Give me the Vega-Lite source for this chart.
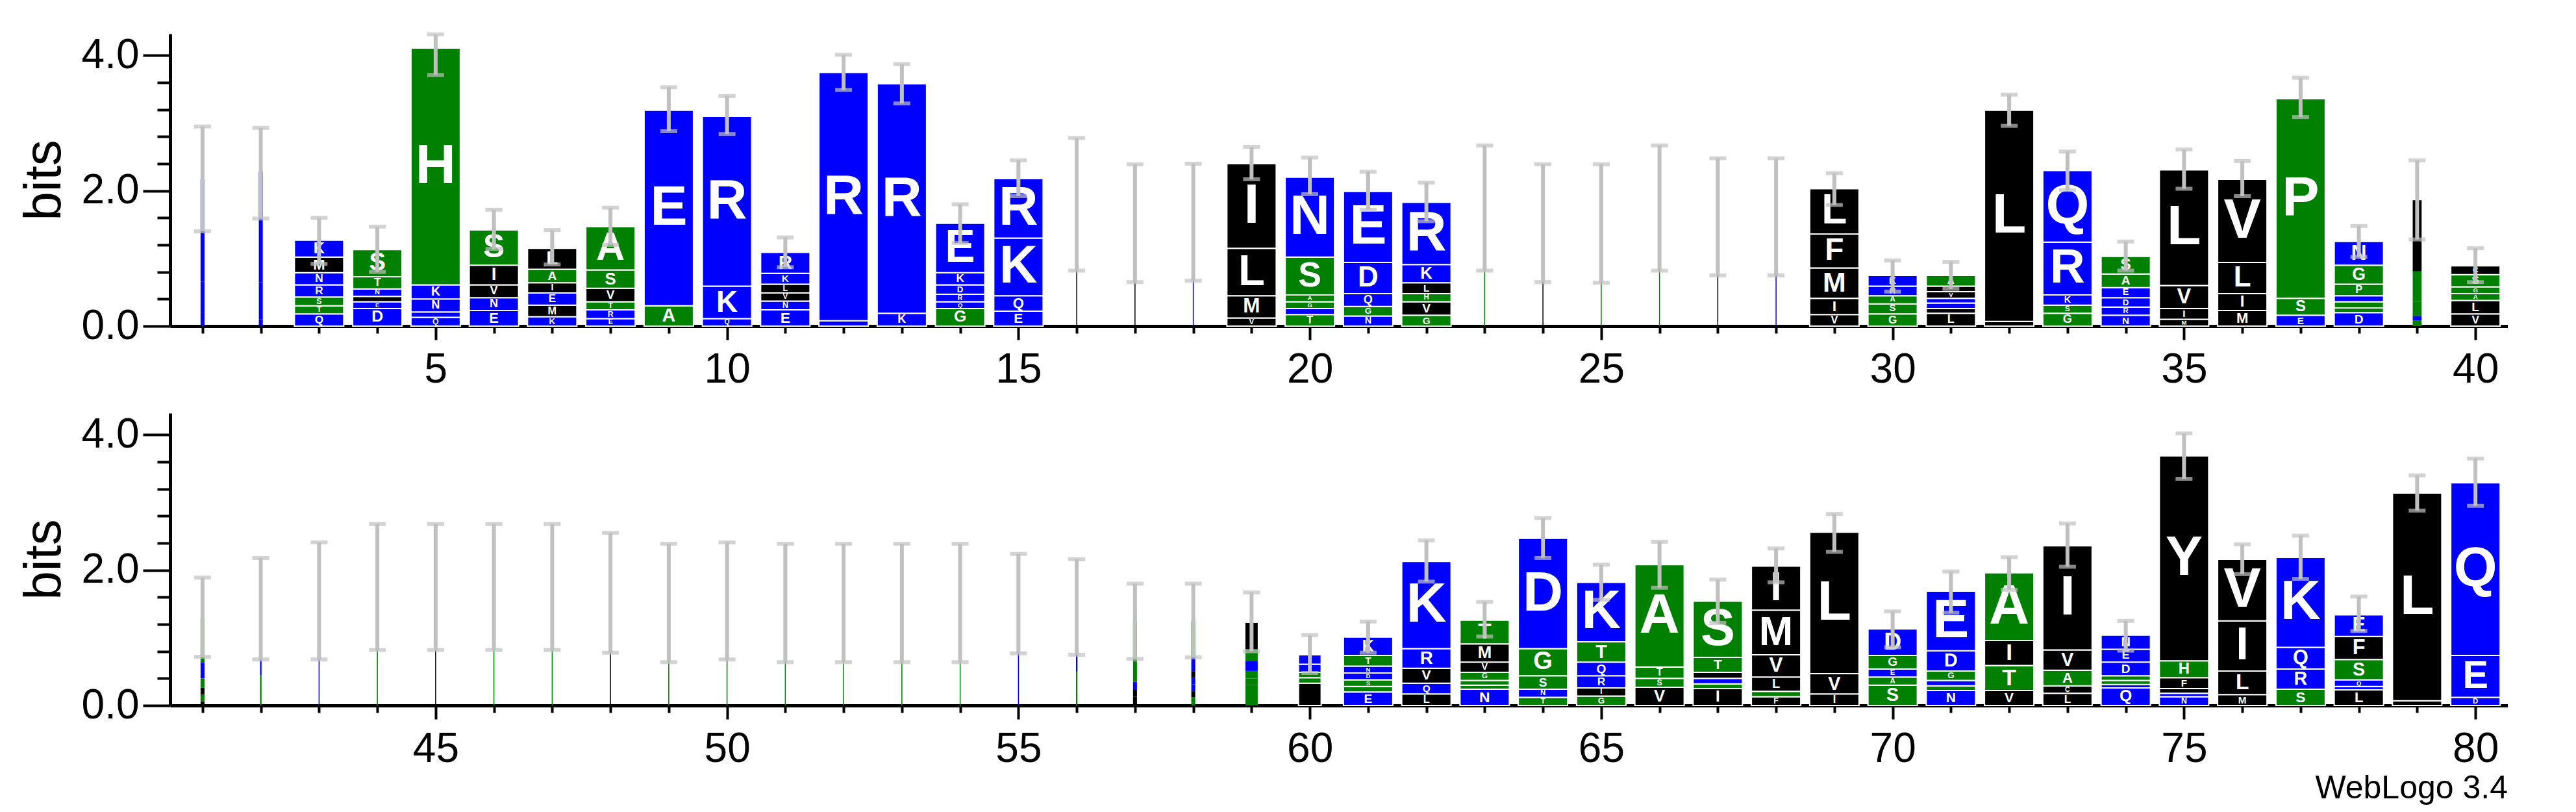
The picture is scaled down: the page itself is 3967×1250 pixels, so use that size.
{
"$schema": "https://vega.github.io/schema/vega-lite/v6.json",
"background": "white",
"padding": {"left": 28, "top": 50, "right": 0, "bottom": 10},
"config": {
  "view": {"stroke": null},
  "font": "Liberation Sans",
  "axis": {"domainColor": "black", "domainWidth": 5, "tickColor": "black", "tickWidth": 4, "labelColor": "black", "labelFont": "Liberation Sans", "labelFontSize": 64, "grid": false, "titleFont": "Liberation Sans", "titleFontSize": 80, "titleFontWeight": "normal", "titleColor": "black", "labelOverlap": false, "labelFlush": false},
  "concat": {"spacing": 35}
},
"datasets": {
"logo": [
{"p":1,"a":"D","b":0.21,"w":0.08},{"p":1,"a":"R","b":0.45,"w":0.08},{"p":1,"a":"K","b":1.51,"w":0.08},
{"p":2,"a":"E","b":0.1,"w":0.08},{"p":2,"a":"K","b":0.55,"w":0.08},{"p":2,"a":"R","b":1.63,"w":0.08},
{"p":3,"a":"Q","b":0.18,"w":1},{"p":3,"a":"T","b":0.12,"w":1},{"p":3,"a":"S","b":0.13,"w":1},{"p":3,"a":"R","b":0.18,"w":1},{"p":3,"a":"N","b":0.18,"w":1},{"p":3,"a":"M","b":0.23,"w":1},{"p":3,"a":"K","b":0.25,"w":1},
{"p":4,"a":"D","b":0.26,"w":1},{"p":4,"a":"E","b":0.1,"w":1},{"p":4,"a":"V","b":0.08,"w":1},{"p":4,"a":"N","b":0.11,"w":1},{"p":4,"a":"T","b":0.18,"w":1},{"p":4,"a":"S","b":0.4,"w":1},
{"p":5,"a":"Q","b":0.13,"w":1},{"p":5,"a":"R","b":0.08,"w":1},{"p":5,"a":"N","b":0.19,"w":1},{"p":5,"a":"K","b":0.21,"w":1},{"p":5,"a":"H","b":3.5,"w":1},
{"p":6,"a":"E","b":0.23,"w":1},{"p":6,"a":"N","b":0.19,"w":1},{"p":6,"a":"V","b":0.19,"w":1},{"p":6,"a":"I","b":0.29,"w":1},{"p":6,"a":"S","b":0.52,"w":1},
{"p":7,"a":"K","b":0.14,"w":1},{"p":7,"a":"M","b":0.17,"w":1},{"p":7,"a":"E","b":0.18,"w":1},{"p":7,"a":"I","b":0.15,"w":1},{"p":7,"a":"A","b":0.2,"w":1},{"p":7,"a":"L","b":0.31,"w":1},
{"p":8,"a":"E","b":0.11,"w":1},{"p":8,"a":"R","b":0.13,"w":1},{"p":8,"a":"T","b":0.12,"w":1},{"p":8,"a":"V","b":0.2,"w":1},{"p":8,"a":"S","b":0.27,"w":1},{"p":8,"a":"A","b":0.64,"w":1},
{"p":9,"a":"A","b":0.3,"w":1},{"p":9,"a":"E","b":2.89,"w":1},
{"p":10,"a":"Q","b":0.11,"w":1},{"p":10,"a":"K","b":0.48,"w":1},{"p":10,"a":"R","b":2.51,"w":1},
{"p":11,"a":"E","b":0.24,"w":1},{"p":11,"a":"N","b":0.13,"w":1},{"p":11,"a":"V","b":0.12,"w":1},{"p":11,"a":"L","b":0.13,"w":1},{"p":11,"a":"K","b":0.16,"w":1},{"p":11,"a":"R","b":0.31,"w":1},
{"p":12,"a":"K","b":0.08,"w":1},{"p":12,"a":"R","b":3.67,"w":1},
{"p":13,"a":"K","b":0.19,"w":1},{"p":13,"a":"R","b":3.39,"w":1},
{"p":14,"a":"G","b":0.26,"w":1},{"p":14,"a":"Q","b":0.1,"w":1},{"p":14,"a":"R","b":0.11,"w":1},{"p":14,"a":"D","b":0.14,"w":1},{"p":14,"a":"K","b":0.18,"w":1},{"p":14,"a":"E","b":0.73,"w":1},
{"p":15,"a":"E","b":0.22,"w":1},{"p":15,"a":"Q","b":0.23,"w":1},{"p":15,"a":"K","b":0.85,"w":1},{"p":15,"a":"R","b":0.88,"w":1},
{"p":16,"a":"L","b":1.8,"w":0.02},
{"p":17,"a":"L","b":1.51,"w":0.02},
{"p":18,"a":"K","b":1.52,"w":0.02},
{"p":19,"a":"V","b":0.12,"w":1},{"p":19,"a":"M","b":0.33,"w":1},{"p":19,"a":"L","b":0.7,"w":1},{"p":19,"a":"I","b":1.25,"w":1},
{"p":20,"a":"T","b":0.17,"w":1},{"p":20,"a":"D","b":0.09,"w":1},{"p":20,"a":"G","b":0.1,"w":1},{"p":20,"a":"A","b":0.1,"w":1},{"p":20,"a":"S","b":0.56,"w":1},{"p":20,"a":"N","b":1.18,"w":1},
{"p":21,"a":"N","b":0.15,"w":1},{"p":21,"a":"G","b":0.14,"w":1},{"p":21,"a":"Q","b":0.19,"w":1},{"p":21,"a":"D","b":0.46,"w":1},{"p":21,"a":"E","b":1.05,"w":1},
{"p":22,"a":"G","b":0.16,"w":1},{"p":22,"a":"V","b":0.2,"w":1},{"p":22,"a":"H","b":0.12,"w":1},{"p":22,"a":"L","b":0.16,"w":1},{"p":22,"a":"K","b":0.27,"w":1},{"p":22,"a":"R","b":0.92,"w":1},
{"p":23,"a":"G","b":1.74,"w":0.02},
{"p":24,"a":"L","b":1.51,"w":0.02},
{"p":25,"a":"G","b":1.51,"w":0.02},
{"p":26,"a":"G","b":1.74,"w":0.02},
{"p":27,"a":"L","b":1.61,"w":0.02},
{"p":28,"a":"K","b":1.6,"w":0.02},
{"p":29,"a":"V","b":0.17,"w":1},{"p":29,"a":"I","b":0.24,"w":1},{"p":29,"a":"M","b":0.45,"w":1},{"p":29,"a":"F","b":0.5,"w":1},{"p":29,"a":"L","b":0.67,"w":1},
{"p":30,"a":"G","b":0.18,"w":1},{"p":30,"a":"S","b":0.15,"w":1},{"p":30,"a":"A","b":0.12,"w":1},{"p":30,"a":"R","b":0.14,"w":1},{"p":30,"a":"K","b":0.16,"w":1},
{"p":31,"a":"L","b":0.19,"w":1},{"p":31,"a":"I","b":0.07,"w":1},{"p":31,"a":"E","b":0.08,"w":1},{"p":31,"a":"K","b":0.07,"w":1},{"p":31,"a":"V","b":0.1,"w":1},{"p":31,"a":"M","b":0.08,"w":1},{"p":31,"a":"A","b":0.16,"w":1},
{"p":32,"a":"V","b":0.07,"w":1},{"p":32,"a":"L","b":3.12,"w":1},
{"p":33,"a":"G","b":0.19,"w":1},{"p":33,"a":"S","b":0.12,"w":1},{"p":33,"a":"K","b":0.15,"w":1},{"p":33,"a":"R","b":0.78,"w":1},{"p":33,"a":"Q","b":1.06,"w":1},
{"p":34,"a":"N","b":0.16,"w":1},{"p":34,"a":"R","b":0.12,"w":1},{"p":34,"a":"D","b":0.14,"w":1},{"p":34,"a":"E","b":0.15,"w":1},{"p":34,"a":"A","b":0.2,"w":1},{"p":34,"a":"S","b":0.26,"w":1},
{"p":35,"a":"M","b":0.1,"w":1},{"p":35,"a":"I","b":0.16,"w":1},{"p":35,"a":"V","b":0.34,"w":1},{"p":35,"a":"L","b":1.71,"w":1},
{"p":36,"a":"M","b":0.23,"w":1},{"p":36,"a":"I","b":0.25,"w":1},{"p":36,"a":"L","b":0.46,"w":1},{"p":36,"a":"V","b":1.23,"w":1},
{"p":37,"a":"E","b":0.16,"w":1},{"p":37,"a":"S","b":0.25,"w":1},{"p":37,"a":"P","b":2.95,"w":1},
{"p":38,"a":"D","b":0.2,"w":1},{"p":38,"a":"T","b":0.07,"w":1},{"p":38,"a":"S","b":0.09,"w":1},{"p":38,"a":"K","b":0.09,"w":1},{"p":38,"a":"P","b":0.17,"w":1},{"p":38,"a":"G","b":0.28,"w":1},{"p":38,"a":"N","b":0.35,"w":1},
{"p":39,"a":"S","b":0.08,"w":0.18},{"p":39,"a":"E","b":0.07,"w":0.18},{"p":39,"a":"A","b":0.22,"w":0.18},{"p":39,"a":"G","b":0.44,"w":0.18},{"p":39,"a":"I","b":1.05,"w":0.18},
{"p":40,"a":"V","b":0.18,"w":1},{"p":40,"a":"L","b":0.2,"w":1},{"p":40,"a":"A","b":0.1,"w":1},{"p":40,"a":"G","b":0.1,"w":1},{"p":40,"a":"S","b":0.18,"w":1},{"p":40,"a":"C","b":0.13,"w":1},
{"p":41,"a":"Y","b":0.06,"w":0.08},{"p":41,"a":"G","b":0.1,"w":0.08},{"p":41,"a":"C","b":0.1,"w":0.08},{"p":41,"a":"A","b":0.14,"w":0.08},{"p":41,"a":"R","b":0.24,"w":0.08},{"p":41,"a":"S","b":0.65,"w":0.08},
{"p":42,"a":"S","b":0.45,"w":0.03},{"p":42,"a":"K","b":0.96,"w":0.03},
{"p":43,"a":"K","b":1.55,"w":0.02},
{"p":44,"a":"G","b":1.74,"w":0.02},
{"p":45,"a":"L","b":1.74,"w":0.02},
{"p":46,"a":"G","b":1.74,"w":0.02},
{"p":47,"a":"G","b":1.74,"w":0.02},
{"p":48,"a":"L","b":1.66,"w":0.02},
{"p":49,"a":"G","b":1.49,"w":0.02},
{"p":50,"a":"G","b":1.54,"w":0.02},
{"p":51,"a":"G","b":1.49,"w":0.02},
{"p":52,"a":"G","b":1.49,"w":0.02},
{"p":53,"a":"G","b":1.49,"w":0.02},
{"p":54,"a":"G","b":1.49,"w":0.02},
{"p":55,"a":"K","b":1.49,"w":0.02},
{"p":56,"a":"S","b":0.2,"w":0.03},{"p":56,"a":"P","b":0.3,"w":0.03},{"p":56,"a":"K","b":0.93,"w":0.03},
{"p":57,"a":"Y","b":0.13,"w":0.08},{"p":57,"a":"L","b":0.1,"w":0.08},{"p":57,"a":"K","b":0.12,"w":0.08},{"p":57,"a":"S","b":0.3,"w":0.08},{"p":57,"a":"A","b":0.6,"w":0.08},
{"p":58,"a":"S","b":0.12,"w":0.08},{"p":58,"a":"M","b":0.09,"w":0.08},{"p":58,"a":"E","b":0.1,"w":0.08},{"p":58,"a":"D","b":0.1,"w":0.08},{"p":58,"a":"C","b":0.09,"w":0.08},{"p":58,"a":"N","b":0.21,"w":0.08},{"p":58,"a":"G","b":0.54,"w":0.08},
{"p":59,"a":"T","b":0.3,"w":0.25},{"p":59,"a":"S","b":0.1,"w":0.25},{"p":59,"a":"A","b":0.11,"w":0.25},{"p":59,"a":"K","b":0.15,"w":0.25},{"p":59,"a":"G","b":0.17,"w":0.25},{"p":59,"a":"V","b":0.39,"w":0.25},
{"p":60,"a":"V","b":0.33,"w":0.46},{"p":60,"a":"A","b":0.08,"w":0.46},{"p":60,"a":"S","b":0.08,"w":0.46},{"p":60,"a":"N","b":0.12,"w":0.46},{"p":60,"a":"D","b":0.14,"w":0.46},
{"p":61,"a":"E","b":0.2,"w":1},{"p":61,"a":"G","b":0.08,"w":1},{"p":61,"a":"S","b":0.1,"w":1},{"p":61,"a":"D","b":0.1,"w":1},{"p":61,"a":"N","b":0.1,"w":1},{"p":61,"a":"T","b":0.16,"w":1},{"p":61,"a":"K","b":0.27,"w":1},
{"p":62,"a":"L","b":0.17,"w":1},{"p":62,"a":"Q","b":0.16,"w":1},{"p":62,"a":"V","b":0.22,"w":1},{"p":62,"a":"R","b":0.29,"w":1},{"p":62,"a":"K","b":1.29,"w":1},
{"p":63,"a":"N","b":0.24,"w":1},{"p":63,"a":"A","b":0.06,"w":1},{"p":63,"a":"S","b":0.07,"w":1},{"p":63,"a":"G","b":0.12,"w":1},{"p":63,"a":"V","b":0.15,"w":1},{"p":63,"a":"M","b":0.27,"w":1},{"p":63,"a":"T","b":0.35,"w":1},
{"p":64,"a":"T","b":0.12,"w":1},{"p":64,"a":"N","b":0.12,"w":1},{"p":64,"a":"S","b":0.2,"w":1},{"p":64,"a":"G","b":0.4,"w":1},{"p":64,"a":"D","b":1.63,"w":1},
{"p":65,"a":"G","b":0.14,"w":1},{"p":65,"a":"I","b":0.12,"w":1},{"p":65,"a":"R","b":0.18,"w":1},{"p":65,"a":"Q","b":0.2,"w":1},{"p":65,"a":"T","b":0.3,"w":1},{"p":65,"a":"K","b":0.88,"w":1},
{"p":66,"a":"V","b":0.27,"w":1},{"p":66,"a":"S","b":0.13,"w":1},{"p":66,"a":"T","b":0.17,"w":1},{"p":66,"a":"A","b":1.51,"w":1},
{"p":67,"a":"I","b":0.25,"w":1},{"p":67,"a":"A","b":0.07,"w":1},{"p":67,"a":"D","b":0.08,"w":1},{"p":67,"a":"L","b":0.09,"w":1},{"p":67,"a":"T","b":0.22,"w":1},{"p":67,"a":"S","b":0.83,"w":1},
{"p":68,"a":"F","b":0.13,"w":1},{"p":68,"a":"T","b":0.08,"w":1},{"p":68,"a":"L","b":0.21,"w":1},{"p":68,"a":"V","b":0.33,"w":1},{"p":68,"a":"M","b":0.66,"w":1},{"p":68,"a":"I","b":0.65,"w":1},
{"p":69,"a":"I","b":0.17,"w":1},{"p":69,"a":"V","b":0.3,"w":1},{"p":69,"a":"L","b":2.09,"w":1},
{"p":70,"a":"S","b":0.3,"w":1},{"p":70,"a":"A","b":0.12,"w":1},{"p":70,"a":"E","b":0.12,"w":1},{"p":70,"a":"G","b":0.2,"w":1},{"p":70,"a":"D","b":0.39,"w":1},
{"p":71,"a":"N","b":0.22,"w":1},{"p":71,"a":"S","b":0.07,"w":1},{"p":71,"a":"R","b":0.08,"w":1},{"p":71,"a":"G","b":0.14,"w":1},{"p":71,"a":"D","b":0.3,"w":1},{"p":71,"a":"E","b":0.88,"w":1},
{"p":72,"a":"V","b":0.22,"w":1},{"p":72,"a":"T","b":0.37,"w":1},{"p":72,"a":"I","b":0.37,"w":1},{"p":72,"a":"A","b":1.0,"w":1},
{"p":73,"a":"L","b":0.18,"w":1},{"p":73,"a":"C","b":0.11,"w":1},{"p":73,"a":"A","b":0.23,"w":1},{"p":73,"a":"V","b":0.3,"w":1},{"p":73,"a":"I","b":1.54,"w":1},
{"p":74,"a":"Q","b":0.26,"w":1},{"p":74,"a":"K","b":0.05,"w":1},{"p":74,"a":"G","b":0.06,"w":1},{"p":74,"a":"A","b":0.07,"w":1},{"p":74,"a":"D","b":0.2,"w":1},{"p":74,"a":"E","b":0.19,"w":1},{"p":74,"a":"N","b":0.21,"w":1},
{"p":75,"a":"N","b":0.13,"w":1},{"p":75,"a":"D","b":0.05,"w":1},{"p":75,"a":"L","b":0.07,"w":1},{"p":75,"a":"F","b":0.16,"w":1},{"p":75,"a":"H","b":0.25,"w":1},{"p":75,"a":"Y","b":3.03,"w":1},
{"p":76,"a":"M","b":0.16,"w":1},{"p":76,"a":"L","b":0.35,"w":1},{"p":76,"a":"I","b":0.74,"w":1},{"p":76,"a":"V","b":0.91,"w":1},
{"p":77,"a":"S","b":0.24,"w":1},{"p":77,"a":"R","b":0.3,"w":1},{"p":77,"a":"Q","b":0.32,"w":1},{"p":77,"a":"K","b":1.33,"w":1},
{"p":78,"a":"L","b":0.23,"w":1},{"p":78,"a":"D","b":0.05,"w":1},{"p":78,"a":"Q","b":0.1,"w":1},{"p":78,"a":"S","b":0.3,"w":1},{"p":78,"a":"F","b":0.34,"w":1},{"p":78,"a":"E","b":0.32,"w":1},
{"p":79,"a":"M","b":0.07,"w":1},{"p":79,"a":"L","b":3.07,"w":1},
{"p":80,"a":"D","b":0.12,"w":1},{"p":80,"a":"E","b":0.62,"w":1},{"p":80,"a":"Q","b":2.55,"w":1}
],
"err": [
{"p":1,"lo":1.40,"hi":2.95},{"p":2,"lo":1.59,"hi":2.93},{"p":3,"lo":0.92,"hi":1.60},{"p":4,"lo":0.80,"hi":1.47},{"p":5,"lo":3.71,"hi":4.31},
{"p":6,"lo":1.14,"hi":1.72},{"p":7,"lo":0.91,"hi":1.42},{"p":8,"lo":1.20,"hi":1.75},{"p":9,"lo":2.88,"hi":3.53},{"p":10,"lo":2.84,"hi":3.40},
{"p":11,"lo":0.87,"hi":1.31},{"p":12,"lo":3.49,"hi":4.01},{"p":13,"lo":3.29,"hi":3.87},{"p":14,"lo":1.23,"hi":1.80},{"p":15,"lo":1.92,"hi":2.45},
{"p":16,"lo":0.82,"hi":2.78},{"p":17,"lo":0.65,"hi":2.39},{"p":18,"lo":0.67,"hi":2.40},{"p":19,"lo":2.17,"hi":2.65},{"p":20,"lo":1.95,"hi":2.49},
{"p":21,"lo":1.72,"hi":2.28},{"p":22,"lo":1.55,"hi":2.12},{"p":23,"lo":0.82,"hi":2.67},{"p":24,"lo":0.65,"hi":2.39},{"p":25,"lo":0.64,"hi":2.39},
{"p":26,"lo":0.82,"hi":2.67},{"p":27,"lo":0.75,"hi":2.48},{"p":28,"lo":0.75,"hi":2.48},{"p":29,"lo":1.79,"hi":2.26},{"p":30,"lo":0.51,"hi":0.97},
{"p":31,"lo":0.55,"hi":0.95},{"p":32,"lo":2.96,"hi":3.42},{"p":33,"lo":2.01,"hi":2.58},{"p":34,"lo":0.82,"hi":1.25},{"p":35,"lo":2.03,"hi":2.61},
{"p":36,"lo":1.92,"hi":2.44},{"p":37,"lo":3.09,"hi":3.67},{"p":38,"lo":1.02,"hi":1.48},{"p":39,"lo":1.28,"hi":2.45},{"p":40,"lo":0.65,"hi":1.15},
{"p":41,"lo":0.72,"hi":1.89},{"p":42,"lo":0.68,"hi":2.18},{"p":43,"lo":0.68,"hi":2.41},{"p":44,"lo":0.82,"hi":2.68},{"p":45,"lo":0.82,"hi":2.68},
{"p":46,"lo":0.82,"hi":2.68},{"p":47,"lo":0.82,"hi":2.68},{"p":48,"lo":0.78,"hi":2.55},{"p":49,"lo":0.64,"hi":2.39},{"p":50,"lo":0.68,"hi":2.41},
{"p":51,"lo":0.64,"hi":2.39},{"p":52,"lo":0.64,"hi":2.39},{"p":53,"lo":0.64,"hi":2.39},{"p":54,"lo":0.64,"hi":2.39},{"p":55,"lo":0.77,"hi":2.24},
{"p":56,"lo":0.75,"hi":2.16},{"p":57,"lo":0.69,"hi":1.80},{"p":58,"lo":0.71,"hi":1.80},{"p":59,"lo":0.80,"hi":1.67},{"p":60,"lo":0.48,"hi":1.04},
{"p":61,"lo":0.78,"hi":1.24},{"p":62,"lo":1.83,"hi":2.44},{"p":63,"lo":1.02,"hi":1.53},{"p":64,"lo":2.18,"hi":2.77},{"p":65,"lo":1.56,"hi":2.08},
{"p":66,"lo":1.74,"hi":2.42},{"p":67,"lo":1.22,"hi":1.86},{"p":68,"lo":1.82,"hi":2.32},{"p":69,"lo":2.27,"hi":2.83},{"p":70,"lo":0.86,"hi":1.39},
{"p":71,"lo":1.37,"hi":1.98},{"p":72,"lo":1.71,"hi":2.19},{"p":73,"lo":2.05,"hi":2.69},{"p":74,"lo":0.81,"hi":1.25},{"p":75,"lo":3.35,"hi":4.02},
{"p":76,"lo":1.94,"hi":2.38},{"p":77,"lo":1.87,"hi":2.51},{"p":78,"lo":1.10,"hi":1.61},{"p":79,"lo":2.88,"hi":3.40},{"p":80,"lo":2.95,"hi":3.65}
]
},
"vconcat": [
{
  "width": 3600, "height": 450,
  "resolve": {"scale": {"size": "independent"}},
  "layer": [
    {
      "data": {"name": "logo"},
      "transform": [{"filter": "datum.p <= 40"}, {"stack": "b", "groupby": ["p"], "as": ["lo", "hi"]}],
      "mark": {"type": "bar", "stroke": "white"},
      "encoding": {
        "x": {"field": "p", "type": "quantitative", "scale": {"domain": [0.5, 40.5], "nice": false, "zero": false},
              "axis": {"values": [1,2,3,4,5,6,7,8,9,10,11,12,13,14,15,16,17,18,19,20,21,22,23,24,25,26,27,28,29,30,31,32,33,34,35,36,37,38,39,40],
                       "format": "d",
                       "labelExpr": "datum.value % 5 === 0 ? datum.label : ''",
                       "tickSize": {"condition": {"test": "datum.value % 5 === 0", "value": 21}, "value": 11},
                       "labelPadding": 14, "title": null}},
        "y": {"field": "lo", "type": "quantitative", "stack": null, "scale": {"domain": [0, 4.32], "nice": false},
              "axis": {"values": [0,0.2,0.4,0.6,0.8,1,1.2,1.4,1.6,1.8,2,2.2,2.4,2.6,2.8,3,3.2,3.4,3.6,3.8,4,4.2],
                       "labelExpr": "abs(datum.value - round(datum.value)) < 0.01 ? format(datum.value, '.1f') : ''",
                       "tickSize": {"condition": {"test": "abs(datum.value - round(datum.value)) < 0.01", "value": 42}, "value": 20},
                       "labelPadding": 6, "title": "bits", "titlePadding": 16}},
        "y2": {"field": "hi"},
        "color": {"field": "a", "type": "nominal", "legend": null,
                  "scale": {"domain": ["R","K","D","E","N","Q","S","G","H","T","A","P","Y","V","M","C","L","F","I","W"],
                            "range": ["#0000ff","#0000ff","#0000ff","#0000ff","#0000ff","#0000ff","#008000","#008000","#008000","#008000","#008000","#008000","#000000","#000000","#000000","#000000","#000000","#000000","#000000","#000000"]}},
        "size": {"field": "w", "type": "quantitative", "legend": null, "scale": {"domain": [0, 1], "range": [0, 76]}},
        "strokeWidth": {"condition": {"test": "datum.w > 0.3", "value": 2}, "value": 0}
      }
    },
    {
      "data": {"name": "logo"},
      "transform": [{"filter": "datum.p <= 40"}, {"stack": "b", "groupby": ["p"], "as": ["lo", "hi"]}, {"filter": "datum.w >= 0.5 && datum.b >= 0.1"}, {"fold": ["lo", "hi"], "as": ["k", "v"]}],
      "mark": {"type": "text", "color": "white", "fontWeight": "bold", "font": "Liberation Sans", "baseline": "middle"},
      "encoding": {
        "x": {"field": "p", "type": "quantitative"},
        "y": {"aggregate": "mean", "field": "v", "type": "quantitative"},
        "text": {"field": "a"},
        "size": {"field": "b", "type": "quantitative", "legend": null, "scale": {"domain": [0, 0.9], "range": [0, 86], "clamp": true}}
      }
    },
    {
      "data": {"name": "err"},
      "transform": [{"filter": "datum.p <= 40"}],
      "mark": {"type": "rule", "color": "#c0c0c0", "strokeWidth": 6},
      "encoding": {"x": {"field": "p", "type": "quantitative"}, "y": {"field": "lo", "type": "quantitative"}, "y2": {"field": "hi"}}
    },
    {
      "data": {"name": "err"},
      "transform": [{"filter": "datum.p <= 40"}, {"fold": ["lo", "hi"], "as": ["k", "v"]}],
      "mark": {"type": "tick", "orient": "horizontal", "color": "#c0c0c0", "size": 26, "thickness": 6},
      "encoding": {"x": {"field": "p", "type": "quantitative"}, "y": {"field": "v", "type": "quantitative"}}
    }
  ]
},
{
  "width": 3600, "height": 450,
  "title": {"text": "WebLogo 3.4", "orient": "bottom", "anchor": "end", "fontSize": 50, "fontWeight": "normal", "font": "Liberation Sans", "color": "black", "offset": 4},
  "resolve": {"scale": {"size": "independent"}},
  "layer": [
    {
      "data": {"name": "logo"},
      "transform": [{"filter": "datum.p > 40"}, {"stack": "b", "groupby": ["p"], "as": ["lo", "hi"]}],
      "mark": {"type": "bar", "stroke": "white"},
      "encoding": {
        "x": {"field": "p", "type": "quantitative", "scale": {"domain": [40.5, 80.5], "nice": false, "zero": false},
              "axis": {"values": [41,42,43,44,45,46,47,48,49,50,51,52,53,54,55,56,57,58,59,60,61,62,63,64,65,66,67,68,69,70,71,72,73,74,75,76,77,78,79,80],
                       "format": "d",
                       "labelExpr": "datum.value % 5 === 0 ? datum.label : ''",
                       "tickSize": {"condition": {"test": "datum.value % 5 === 0", "value": 21}, "value": 11},
                       "labelPadding": 14, "title": null}},
        "y": {"field": "lo", "type": "quantitative", "stack": null, "scale": {"domain": [0, 4.32], "nice": false},
              "axis": {"values": [0,0.2,0.4,0.6,0.8,1,1.2,1.4,1.6,1.8,2,2.2,2.4,2.6,2.8,3,3.2,3.4,3.6,3.8,4,4.2],
                       "labelExpr": "abs(datum.value - round(datum.value)) < 0.01 ? format(datum.value, '.1f') : ''",
                       "tickSize": {"condition": {"test": "abs(datum.value - round(datum.value)) < 0.01", "value": 42}, "value": 20},
                       "labelPadding": 6, "title": "bits", "titlePadding": 16}},
        "y2": {"field": "hi"},
        "color": {"field": "a", "type": "nominal", "legend": null,
                  "scale": {"domain": ["R","K","D","E","N","Q","S","G","H","T","A","P","Y","V","M","C","L","F","I","W"],
                            "range": ["#0000ff","#0000ff","#0000ff","#0000ff","#0000ff","#0000ff","#008000","#008000","#008000","#008000","#008000","#008000","#000000","#000000","#000000","#000000","#000000","#000000","#000000","#000000"]}},
        "size": {"field": "w", "type": "quantitative", "legend": null, "scale": {"domain": [0, 1], "range": [0, 76]}},
        "strokeWidth": {"condition": {"test": "datum.w > 0.3", "value": 2}, "value": 0}
      }
    },
    {
      "data": {"name": "logo"},
      "transform": [{"filter": "datum.p > 40"}, {"stack": "b", "groupby": ["p"], "as": ["lo", "hi"]}, {"filter": "datum.w >= 0.5 && datum.b >= 0.1"}, {"fold": ["lo", "hi"], "as": ["k", "v"]}],
      "mark": {"type": "text", "color": "white", "fontWeight": "bold", "font": "Liberation Sans", "baseline": "middle"},
      "encoding": {
        "x": {"field": "p", "type": "quantitative"},
        "y": {"aggregate": "mean", "field": "v", "type": "quantitative"},
        "text": {"field": "a"},
        "size": {"field": "b", "type": "quantitative", "legend": null, "scale": {"domain": [0, 0.9], "range": [0, 86], "clamp": true}}
      }
    },
    {
      "data": {"name": "err"},
      "transform": [{"filter": "datum.p > 40"}],
      "mark": {"type": "rule", "color": "#c0c0c0", "strokeWidth": 6},
      "encoding": {"x": {"field": "p", "type": "quantitative"}, "y": {"field": "lo", "type": "quantitative"}, "y2": {"field": "hi"}}
    },
    {
      "data": {"name": "err"},
      "transform": [{"filter": "datum.p > 40"}, {"fold": ["lo", "hi"], "as": ["k", "v"]}],
      "mark": {"type": "tick", "orient": "horizontal", "color": "#c0c0c0", "size": 26, "thickness": 6},
      "encoding": {"x": {"field": "p", "type": "quantitative"}, "y": {"field": "v", "type": "quantitative"}}
    }
  ]
}
]
}
